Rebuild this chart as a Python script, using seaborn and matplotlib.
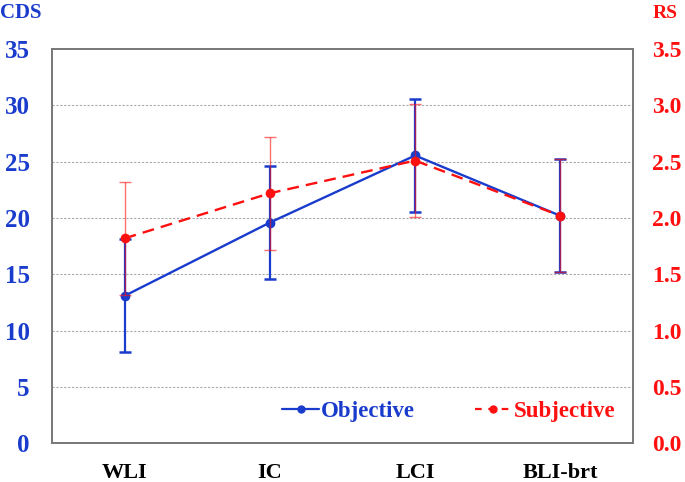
import numpy as np
import pandas as pd
import matplotlib
matplotlib.use("Agg")
import matplotlib.pyplot as plt
import seaborn as sns
from matplotlib.lines import Line2D

# data
categories = ["WLI", "IC", "LCI", "BLI-brt"]
objective = [13.1, 19.6, 25.55, 20.2]      # CDS
objective_err = [5.0, 5.0, 5.05, 5.0]
subjective = [1.82, 2.22, 2.51, 2.02]      # RS
subjective_err = [0.5, 0.5, 0.5, 0.5]

blue = "#1a3ccc"
red = "#ff1010"

sns.set_theme(style="white")
plt.rcParams["font.family"] = ["Liberation Serif", "DejaVu Serif"]
plt.rcParams["font.weight"] = "bold"

df = pd.DataFrame({"cat": categories, "x": np.arange(len(categories)),
                   "obj": objective, "obj_err": objective_err,
                   "subj": subjective, "subj_err": subjective_err})

fig = plt.figure(figsize=(6.85, 4.82), dpi=100)
ax = fig.add_axes([0.0759, 0.0799, 0.8482, 0.8185])
ax2 = ax.twinx()

# objective on left axis
ax.errorbar(df["x"], df["obj"], yerr=df["obj_err"], fmt="none", ecolor=blue,
            elinewidth=1.6, capsize=4, capthick=1.8, zorder=3)
sns.lineplot(data=df, x="x", y="obj", ax=ax, color=blue, marker="o",
             markersize=7, markeredgewidth=0, linewidth=1.7, zorder=4)

# subjective on right axis
ax2.errorbar(df["x"], df["subj"], yerr=df["subj_err"], fmt="none", ecolor=red,
             elinewidth=1.0, capsize=4, capthick=1.0, alpha=0.6, zorder=3)
sns.lineplot(data=df, x="x", y="subj", ax=ax2, color=red, marker="o",
             markersize=7, markeredgewidth=0, linewidth=1.7, zorder=4)
ax2.lines[-1].set_dashes([5, 3])

ax.set_xlim(-0.5, len(categories) - 0.5)
ax.set_ylim(0, 35)
ax2.set_ylim(0, 3.5)
ax.set_yticks(np.arange(0, 36, 5))
ax2.set_yticks(np.arange(0, 3.6, 0.5))
ax2.set_yticklabels([f"{v:.1f}" for v in np.arange(0, 3.6, 0.5)])
ax.set_xticks(df["x"])
ax.set_xticklabels(categories)
ax.set_xlabel("")
ax.set_ylabel("")
ax2.set_ylabel("")

for v in range(5, 35, 5):
    ax.axhline(v, color="#aaaaaa", linestyle=(0, (2, 1.5)), linewidth=0.8, zorder=1)

ax.tick_params(axis="y", length=0, pad=16, labelsize=18, labelcolor=blue)
ax.tick_params(axis="x", length=0, pad=14, labelsize=16, labelcolor="black")
ax2.tick_params(axis="y", length=0, pad=14, labelsize=17, labelcolor=red)
for t in ax.get_yticklabels() + ax2.get_yticklabels() + ax.get_xticklabels():
    t.set_fontweight("bold")

for a in (ax, ax2):
    for s in a.spines.values():
        s.set_color("#777777")
        s.set_linewidth(1.2)

fig.text(0.0, 0.972, "CDS", color=blue, fontsize=15, fontweight="bold",
         ha="left", va="center")
fig.text(0.989, 0.972, "RS", color=red, fontsize=14, fontweight="bold",
         ha="right", va="center")

handles = [Line2D([], [], color=blue, marker="o", markersize=5, linewidth=1.6),
           Line2D([], [], color=red, marker="o", markersize=5, linewidth=1.6,
                  dashes=[3, 3])]
leg = ax2.legend(handles, ["Objective", "Subjective"], loc="center",
                 bbox_to_anchor=(0.683, 0.08), ncol=2, frameon=False,
                 handlelength=1.6, handletextpad=0.1,
                 columnspacing=2.6, prop={"weight": "bold", "size": 16.5})
for txt, c in zip(leg.get_texts(), [blue, red]):
    txt.set_color(c)

fig.savefig("out.png", dpi=100)
